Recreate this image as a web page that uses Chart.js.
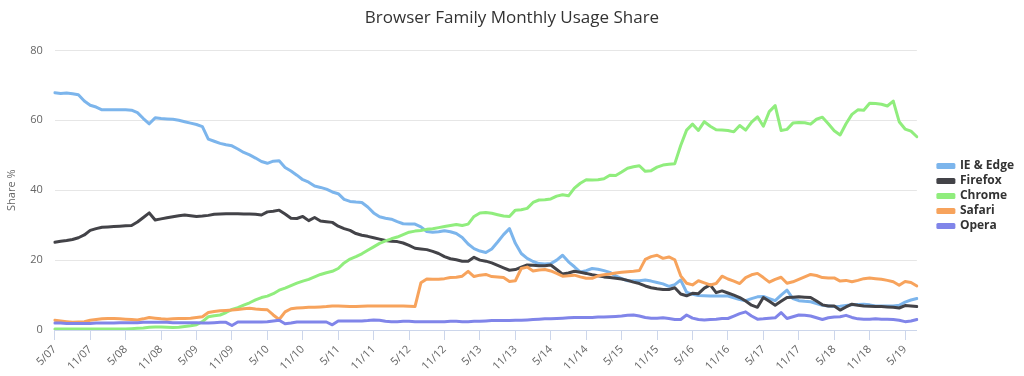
<!DOCTYPE html>
<html><head><meta charset="utf-8">
<script src="https://cdn.jsdelivr.net/npm/chart.js@4/dist/chart.umd.min.js"></script>
<style>html,body{margin:0;padding:0;background:#fff}#wrap{width:1024px;height:376px;position:relative}</style>
</head><body><div id="wrap"><canvas id="c" width="1024" height="376"></canvas></div>
<script>
// Monthly categories 5/07 .. 7/19
const months = [];
for (let y = 7; y <= 19; y++) {
  for (let m = 1; m <= 12; m++) {
    if (y === 7 && m < 5) continue;
    if (y === 19 && m > 7) continue;
    months.push(m + '/' + String(y).padStart(2, '0'));
  }
}
const seriesNames = ['IE & Edge', 'Firefox', 'Chrome', 'Safari', 'Opera'];
const seriesColors = ['#7cb5ec', '#434348', '#90ed7d', '#f7a35c', '#8085e9'];
const yTicks = [0, 20, 40, 60, 80];

const ieEdge = [
67.9,67.7,67.8,67.6,67.3,65.5,64.3,63.8,63.0,63.0,
63.0,63.0,63.0,62.9,62.2,60.5,59.0,60.7,60.5,60.4,
60.3,60.0,59.6,59.2,58.8,58.2,54.6,54.0,53.4,53.0,
52.7,51.8,50.8,50.1,49.2,48.2,47.7,48.3,48.4,46.5,
45.5,44.3,43.0,42.3,41.2,40.8,40.3,39.5,39.0,37.4,
36.8,36.6,36.5,35.2,33.5,32.4,32.0,31.7,31.0,30.4,
30.3,30.3,29.5,28.2,28.0,28.1,28.4,28.1,27.6,26.5,
24.6,23.3,22.6,22.2,23.2,25.2,27.3,29.0,24.8,21.9,
20.5,19.6,19.0,18.9,19.0,20.0,21.4,19.5,18.1,16.6,
17.0,17.6,17.4,17.0,16.5,15.5,14.7,14.1,14.1,14.1,
14.3,14.0,13.6,13.2,12.5,13.0,14.3,10.8,10.2,9.9,
9.8,9.7,9.7,9.7,9.7,9.2,8.7,8.4,9.0,9.5,
9.6,9.0,8.4,10.0,11.4,9.0,8.4,8.2,8.1,7.6,
7.1,6.9,6.7,6.8,7.0,7.2,7.3,7.4,7.2,6.9,
6.9,6.9,6.9,7.1,8.0,8.6,9.0];

const firefox = [
25.1,25.4,25.6,25.9,26.4,27.2,28.5,29.0,29.4,29.5,
29.6,29.7,29.8,29.9,30.9,32.2,33.5,31.5,31.8,32.1,
32.4,32.7,32.9,32.7,32.5,32.6,32.8,33.1,33.2,33.3,
33.3,33.3,33.2,33.2,33.1,32.9,33.8,34.0,34.3,33.2,
32.0,31.9,32.5,31.3,32.2,31.2,31.0,30.8,29.7,29.0,
28.5,27.6,27.1,26.8,26.4,26.0,25.6,25.4,25.3,24.9,
24.2,23.4,23.2,23.0,22.5,21.9,21.0,20.4,20.1,19.7,
19.7,20.8,20.0,19.7,19.2,18.5,17.8,17.1,17.3,18.0,
18.6,18.5,18.4,18.4,18.6,17.3,16.0,16.3,16.8,16.5,
16.2,15.8,15.5,15.2,15.0,14.8,14.6,14.2,13.7,13.3,
12.6,12.1,11.8,11.6,11.6,12.1,10.3,9.8,10.5,10.4,
12.0,12.9,10.7,11.2,10.6,10.0,9.3,8.3,7.1,6.5,
9.3,8.2,7.1,8.2,9.3,9.4,9.5,9.4,9.3,8.3,
7.2,6.9,6.9,5.7,6.6,7.4,7.1,6.9,6.8,6.7,
6.7,6.6,6.5,6.3,7.0,6.9,6.7];

const chrome = [
0.3,0.3,0.3,0.3,0.3,0.3,0.3,0.3,0.3,0.3,
0.3,0.3,0.3,0.4,0.5,0.6,0.8,0.9,0.9,0.8,
0.7,0.8,1.0,1.2,1.5,2.4,3.8,4.1,4.3,5.0,
5.9,6.4,7.1,7.8,8.6,9.3,9.7,10.4,11.4,12.0,
12.7,13.4,14.0,14.5,15.2,15.9,16.4,16.8,17.6,19.2,
20.3,21.0,21.8,22.8,23.8,24.8,25.5,26.1,26.6,27.3,
28.0,28.3,28.5,28.8,29.0,29.3,29.6,29.9,30.2,29.9,
30.3,32.5,33.5,33.6,33.4,33.0,32.6,32.5,34.3,34.4,
34.8,36.5,37.2,37.3,37.5,38.3,38.7,38.4,40.6,42.0,
43.0,42.9,43.0,43.3,44.3,44.2,45.2,46.3,46.7,47.0,
45.4,45.6,46.6,47.2,47.4,47.6,52.8,57.2,58.9,57.1,
59.6,58.3,57.3,57.2,57.1,56.7,58.5,57.2,59.5,61.0,
58.3,62.5,64.2,57.1,57.4,59.2,59.4,59.3,58.9,60.3,
60.9,59.0,57.0,55.8,59.0,61.7,63.0,62.9,64.9,64.8,
64.6,64.1,65.5,59.6,57.5,56.9,55.3];

const safari = [
2.8,2.6,2.4,2.2,2.3,2.4,2.8,3.0,3.2,3.3,
3.3,3.2,3.1,3.0,2.9,3.2,3.6,3.4,3.2,3.1,
3.2,3.3,3.3,3.4,3.6,3.8,5.0,5.3,5.5,5.6,
5.7,5.9,6.1,6.2,6.0,5.9,5.8,4.3,3.0,5.2,
6.1,6.3,6.4,6.5,6.5,6.6,6.7,6.9,6.9,6.8,
6.7,6.7,6.8,6.9,6.9,6.9,6.9,6.9,6.9,6.9,
6.8,6.7,13.5,14.6,14.5,14.5,14.7,15.0,15.1,15.4,
16.8,15.3,15.7,15.9,15.3,15.2,15.0,13.9,14.1,17.6,
18.0,16.9,17.2,17.3,16.9,16.2,15.4,15.5,15.7,15.2,
14.8,14.8,15.5,15.8,16.0,16.3,16.5,16.7,16.8,17.0,
20.2,21.0,21.4,20.5,20.9,20.1,15.5,13.4,12.9,14.1,
13.5,12.9,13.3,15.4,14.6,14.0,13.3,15.0,15.8,16.2,
15.0,13.7,14.5,15.1,13.4,13.8,14.5,15.2,15.9,15.6,
15.0,14.9,14.9,14.0,14.2,13.8,14.2,14.7,14.9,14.7,
14.5,14.2,13.8,12.8,13.9,13.6,12.6];

const opera = [
2.0,2.0,1.9,1.9,1.9,1.9,1.9,2.0,2.0,2.0,
2.0,2.1,2.1,2.1,2.1,2.2,2.2,2.2,2.2,2.2,
2.1,2.1,2.1,2.1,2.1,2.0,2.0,2.1,2.2,2.2,
1.3,2.3,2.3,2.3,2.3,2.3,2.4,2.6,2.8,1.8,
2.0,2.3,2.3,2.3,2.3,2.3,2.3,1.5,2.6,2.6,
2.6,2.6,2.6,2.7,2.9,2.8,2.5,2.4,2.4,2.5,
2.5,2.4,2.4,2.4,2.4,2.4,2.4,2.5,2.5,2.4,
2.4,2.5,2.5,2.6,2.7,2.7,2.7,2.7,2.8,2.8,
2.9,3.0,3.1,3.2,3.2,3.3,3.4,3.5,3.6,3.6,
3.6,3.6,3.7,3.7,3.8,3.9,4.0,4.2,4.3,4.0,
3.6,3.4,3.4,3.5,3.3,3.0,3.0,4.3,3.4,3.0,
2.9,3.0,3.1,3.3,3.3,4.0,4.7,5.2,4.0,3.1,
3.2,3.4,3.5,5.0,3.3,3.8,4.3,4.2,4.0,3.5,
3.0,3.5,3.7,3.8,4.2,3.6,3.2,3.1,3.1,3.2,
3.1,3.1,3.0,2.8,2.4,2.6,3.0];

const seriesData = [ieEdge, firefox, chrome, safari, opera];

const datasets = seriesNames.map((name, i) => ({
  label: name,
  data: seriesData[i],
  borderColor: seriesColors[i],
  backgroundColor: seriesColors[i],
  borderWidth: 3,
  pointRadius: 0,
  pointHoverRadius: 0,
  tension: 0,
  fill: false,
  borderJoinStyle: 'round',
  borderCapStyle: 'round',
  order: seriesNames.length - i
}));

// widen the legend box and shift it so there is a gap between plot and legend
const LEGEND_GAP = 18;
const LEGEND_DROP = 8;
const legendGapPlugin = {
  id: 'legendGap',
  afterInit(chart) {
    const lg = chart.legend;
    if (!lg) return;
    const origFit = lg.fit.bind(lg);
    lg.fit = function () { origFit(); this.width += LEGEND_GAP; };
  },
  afterLayout(chart) {
    const lg = chart.legend;
    if (!lg) return;
    lg.left += LEGEND_GAP;
    lg.top += LEGEND_DROP;
    lg.bottom += LEGEND_DROP;
  }
};

new Chart(document.getElementById('c'), {
  type: 'line',
  data: { labels: months, datasets },
  plugins: [legendGapPlugin],
  options: {
    responsive: false,
    animation: false,
    devicePixelRatio: 1,
    layout: { padding: { left: 0, right: 0, top: 0, bottom: 0 } },
    plugins: {
      title: {
        display: true,
        text: 'Browser Family Monthly Usage Share',
        color: '#333333',
        font: { family: 'Open Sans', size: 17, weight: 'normal' },
        padding: { top: 8, bottom: 22 }
      },
      legend: {
        position: 'right',
        align: 'center',
        labels: {
          boxWidth: 16,
          boxHeight: 3,
          padding: 3,
          color: '#333333',
          font: { family: 'Open Sans', size: 12, weight: 'bold' },
          sort: (a, b) => a.datasetIndex - b.datasetIndex
        }
      },
      tooltip: { enabled: false }
    },
    scales: {
      x: {
        type: 'category',
        grid: { drawOnChartArea: false, color: '#ccd6eb', tickLength: 10 },
        border: { color: '#ccd6eb', width: 1 },
        ticks: {
          autoSkip: false,
          minRotation: 45,
          maxRotation: 45,
          color: '#666666',
          font: { family: 'Open Sans', size: 11 },
          callback: (v, i) => (i % 6 === 0 ? months[i] : null)
        }
      },
      y: {
        min: 0,
        max: 80,
        afterBuildTicks: (axis) => { axis.ticks = yTicks.map(v => ({ value: v })); },
        grid: { color: '#e6e6e6', drawTicks: false },
        border: { display: false },
        ticks: { color: '#666666', font: { family: 'Open Sans', size: 11 }, padding: 12 },
        title: { display: true, text: 'Share %', color: '#666666', font: { family: 'Open Sans', size: 11 }, padding: { top: 5, bottom: 0 } }
      }
    }
  }
});
</script></body></html>
